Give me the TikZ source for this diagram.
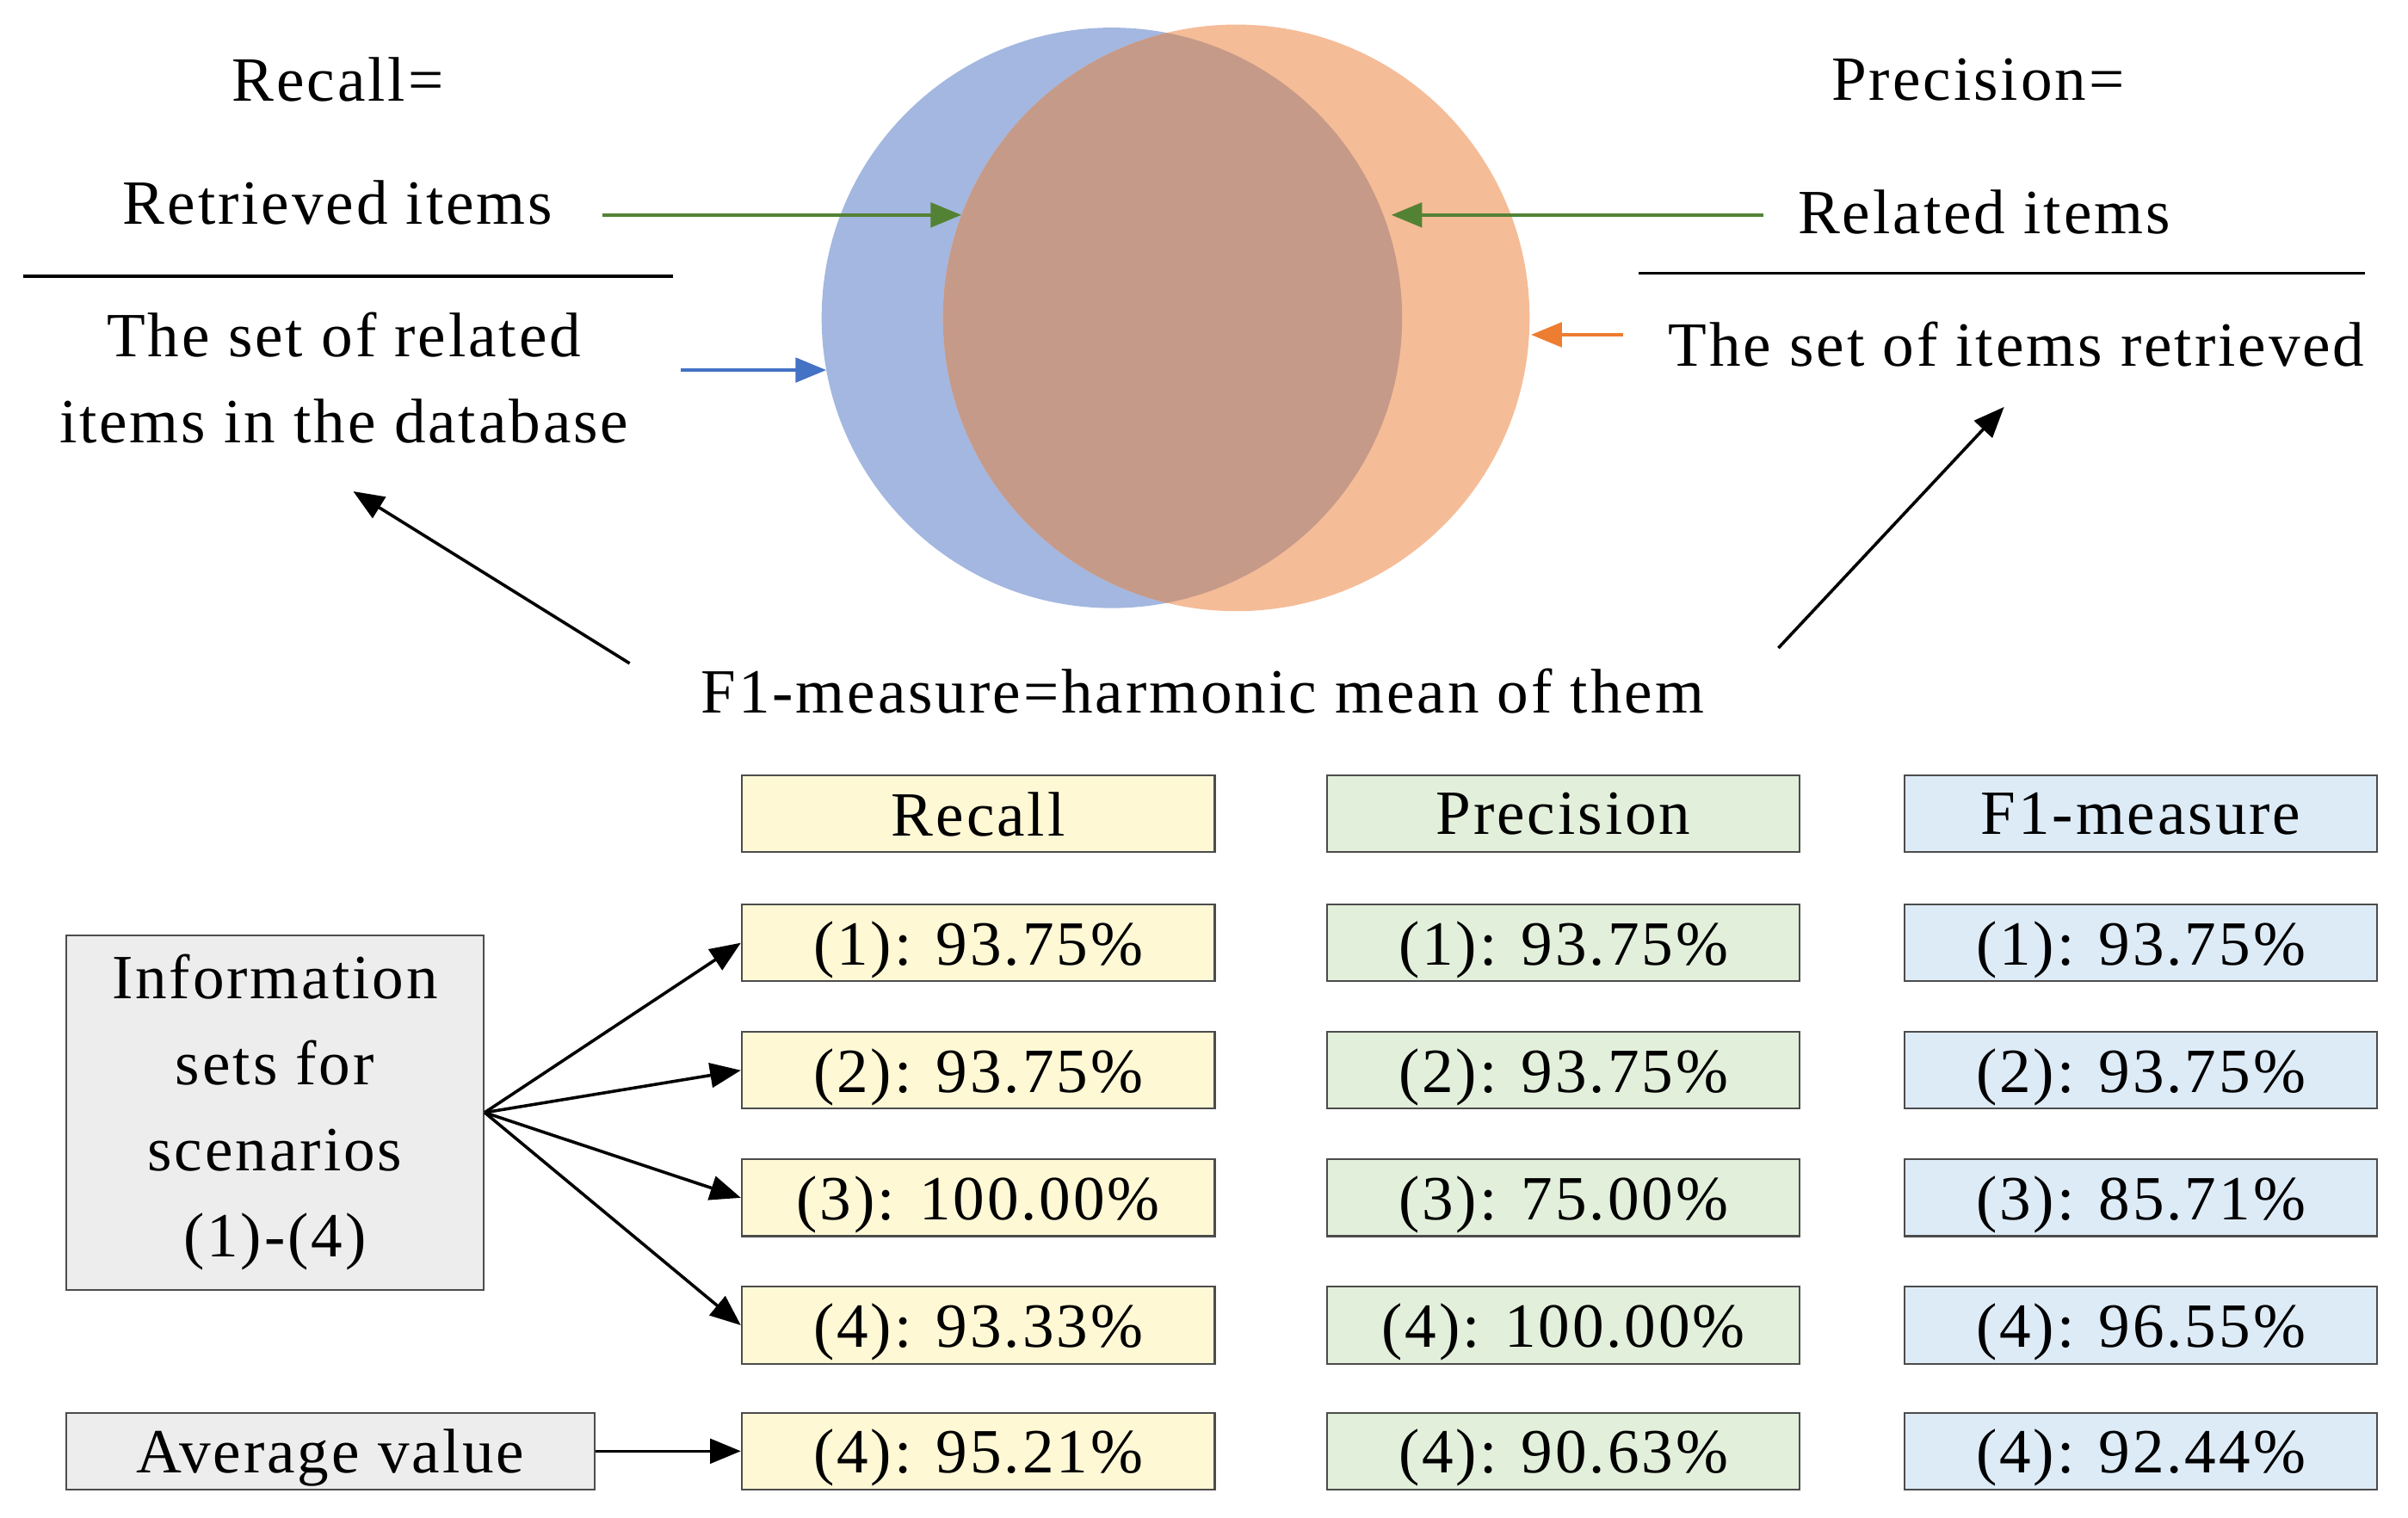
\documentclass[tikz,border=0pt]{standalone}
\usepackage{fontspec}
\setmainfont{Liberation Serif}[LetterSpace=4]
\usetikzlibrary{arrows.meta}
\definecolor{cblue}{HTML}{A3B7E0}
\definecolor{corange}{HTML}{F5BC98}
\definecolor{cmix}{HTML}{C69A88}
\definecolor{agreen}{HTML}{548235}
\definecolor{ablue}{HTML}{4472C4}
\definecolor{aorange}{HTML}{ED7D31}
\definecolor{yel}{HTML}{FFF8D5}
\definecolor{grn}{HTML}{E2EFDA}
\definecolor{blu}{HTML}{DDEBF7}
\definecolor{gry}{HTML}{EDEDED}
\begin{document}
\begin{tikzpicture}[x=0.5pt,y=-0.5pt,
  txt/.style={font=\fontsize{20.5}{24}\selectfont,inner sep=0pt},
  cell/.style={draw=black!70,line width=0.6pt,minimum width=154pt,minimum height=25pt,inner sep=0pt,text depth=0pt,font=\fontsize{20.5}{24}\selectfont},
  arr/.style={-{Triangle[length=10pt,width=8pt]},line width=1pt},
  sarr/.style={-{Triangle[length=10pt,width=8pt]},line width=1pt}]
\useasboundingbox (0,0) rectangle (1568,988);
% Venn
\fill[cblue] (724,207) circle (189);
\fill[corange] (805,207) circle (191);
\begin{scope}\clip (724,207) circle (189);
\fill[cmix] (805,207) circle (191);\end{scope}
\coordinate (bl) at (538,241); \coordinate (or) at (997,218);
\coordinate (gl) at (626,140); \coordinate (gr) at (906,140);
% left text
\node[txt] (rec) at (220,52) {Recall=};
\node[txt] (ret) at (220,132) {Retrieved items};
\draw[line width=1pt] (15,180) -- (438,180);
\node[txt,align=center] (setrel) at (224,246) {The set of related\\[4pt]items in the database};
% right text
\node[txt] (prec) at (1288,52) {Precision=};
\node[txt] (relit) at (1292,138) {Related items};
\draw[line width=1pt] (1067,178) -- (1540,178);
\node[txt] (setret) at (1313,224) {The set of items retrieved};
\coordinate (g1) at (392,140); \coordinate (g2) at (1148,140);
\coordinate (b1) at (443,241); \coordinate (o1) at (1057,218);
\draw[sarr,agreen] (g1) -- (gl);
\draw[sarr,agreen] (g2) -- (gr);
\draw[sarr,ablue] (b1) -- (bl);
\draw[sarr,aorange] (o1) -- (or);
\node[txt] (f1) at (783,450) {F1-measure=harmonic mean of them};
\coordinate (f1a) at (410,432); \coordinate (f1b) at (1158,422);
\coordinate (ta) at (230,320); \coordinate (tb) at (1305,265);
\draw[arr] (f1a) -- (ta);
\draw[arr] (f1b) -- (tb);
% table
\node[cell,fill=yel] (h1) at (637,530) {Recall};
\node[cell,fill=grn] (h2) at (1018,530) {Precision};
\node[cell,fill=blu] (h3) at (1394,530) {F1-measure};
\foreach \n/\y/\a/\b/\c in {1/614/(1): 93.75\%/(1): 93.75\%/(1): 93.75\%,
  2/697/(2): 93.75\%/(2): 93.75\%/(2): 93.75\%,
  3/780/(3): 100.00\%/(3): 75.00\%/(3): 85.71\%,
  4/863/(4): 93.33\%/(4): 100.00\%/(4): 96.55\%,
  5/945/(4): 95.21\%/(4): 90.63\%/(4): 92.44\%}{
  \node[cell,fill=yel] (r\n) at (637,\y) {\a};
  \node[cell,fill=grn] (p\n) at (1018,\y) {\b};
  \node[cell,fill=blu] (f\n) at (1394,\y) {\c};
}
\node[draw=black!70,line width=0.6pt,fill=gry,minimum width=136pt,minimum height=115.5pt,inner sep=0pt,align=center,font=\fontsize{20.5}{28}\selectfont] (info) at (179,724.5) {Information\\sets for\\scenarios\\(1)-(4)};
\node[draw=black!70,line width=0.6pt,fill=gry,minimum width=172pt,minimum height=25pt,inner sep=0pt,text depth=0pt,font=\fontsize{20.5}{24}\selectfont] (avg) at (215,945) {Average value};
\foreach \n in {1,2,3,4} \draw[arr] (info.east) -- (r\n.west);
\draw[arr] (avg) -- (r5);
\end{tikzpicture}
\end{document}
